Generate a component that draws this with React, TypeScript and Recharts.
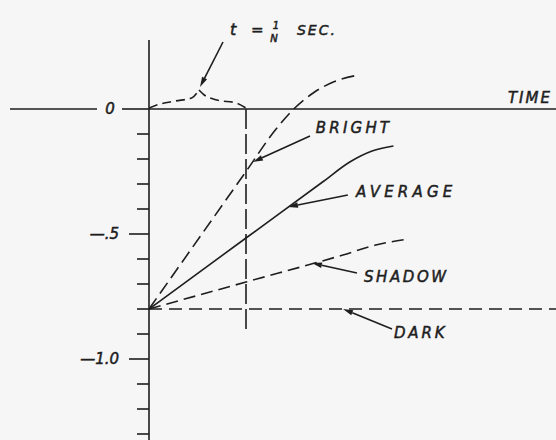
import {
  LineChart, Line, XAxis, YAxis, ReferenceLine, ReferenceDot,
} from 'recharts';

// time in units of 1/N sec, response in relative units
const bright = [
  { t: 0, v: -0.8 }, { t: 1, v: -0.25 }, { t: 1.3, v: -0.085 },
  { t: 1.5, v: 0.003 }, { t: 1.7, v: 0.066 }, { t: 1.9, v: 0.108 }, { t: 2.16, v: 0.136 },
];
const average = [
  { t: 0, v: -0.8 }, { t: 1, v: -0.516 }, { t: 1.8, v: -0.289 },
  { t: 2.07, v: -0.212 }, { t: 2.3, v: -0.168 }, { t: 2.52, v: -0.148 },
];
const shadow = [
  { t: 0, v: -0.8 }, { t: 1, v: -0.692 }, { t: 2, v: -0.584 },
  { t: 2.35, v: -0.543 }, { t: 2.67, v: -0.52 },
];
const dark = [{ t: 0, v: -0.8 }, { t: 4.196, v: -0.8 }];
const braceLeft = [
  { t: 0, v: 0.004 }, { t: 0.08, v: 0.016 }, { t: 0.27, v: 0.032 },
  { t: 0.44, v: 0.044 }, { t: 0.515, v: 0.076 },
];
const braceRight = [
  { t: 0.515, v: 0.076 }, { t: 0.57, v: 0.056 }, { t: 0.7, v: 0.036 },
  { t: 0.9, v: 0.024 }, { t: 1.0, v: 0.004 },
];

const yTicks = [0, -0.1, -0.2, -0.3, -0.4, -0.5, -0.6, -0.7, -0.8, -0.9, -1.0, -1.1, -1.2, -1.3];
const yMajor = [0, -0.5, -1.0];
const yMajorLabels = ['0', '\u2014.5', '\u20141.0'];

const labels = [
  { text: 'BRIGHT', t: 1.72, v: -0.096, ls: 3.2 },
  { text: 'AVERAGE', t: 2.134, v: -0.352, ls: 4.2 },
  { text: 'SHADOW', t: 2.216, v: -0.692, ls: 2.6 },
  { text: 'DARK', t: 2.526, v: -0.916, ls: 2.8 },
  { text: 'TIME', t: 3.70, v: 0.024, ls: 2 },
];

const arrows = [
  { from: [0.763, 0.268], to: [0.526, 0.088] },
  { from: [1.66, -0.108], to: [1.072, -0.212] },
  { from: [2.05, -0.344], to: [1.433, -0.392] },
  { from: [2.144, -0.656], to: [1.68, -0.616] },
  { from: [2.505, -0.88], to: [2.0, -0.8] },
];

const ink = '#1e1e1e';
const font = "'DejaVu Sans', sans-serif";
const textStyle = {
  fontFamily: font, fontStyle: 'italic' as const, fill: ink, stroke: ink, strokeWidth: 0.5,
};

function Arrow(p: any) {
  const { x1, y1, x2, y2 } = p;
  const a = Math.atan2(y2 - y1, x2 - x1);
  const L = 10, W = 2.8;
  const bx = x2 - L * Math.cos(a), by = y2 - L * Math.sin(a);
  const px = -Math.sin(a) * W, py = Math.cos(a) * W;
  return (
    <g>
      <line x1={x1} y1={y1} x2={bx} y2={by} stroke={ink} strokeWidth={1.6} />
      <polygon points={`${x2},${y2} ${bx + px},${by + py} ${bx - px},${by - py}`} fill={ink} />
    </g>
  );
}

function YTick(p: any) {
  const { x, y, payload } = p;
  const v = Math.round(payload.value * 10) / 10;
  const mi = yMajor.findIndex((m) => Math.abs(m - v) < 1e-6);
  if (v === 0) {
    return (
      <g>
        <line x1={x - 139} y1={y} x2={x - 52} y2={y} stroke={ink} strokeWidth={1.6} />
        <text x={x - 39} y={y + 5} textAnchor="middle" fontSize={15} {...textStyle}>{yMajorLabels[0]}</text>
        <line x1={x - 27} y1={y} x2={x} y2={y} stroke={ink} strokeWidth={1.6} />
      </g>
    );
  }
  if (mi > 0) {
    return (
      <g>
        <line x1={x - 20} y1={y} x2={x} y2={y} stroke={ink} strokeWidth={1.6} />
        <text x={x - 30} y={y + 5} textAnchor="end" fontSize={15} {...textStyle}>{yMajorLabels[mi]}</text>
      </g>
    );
  }
  return <line x1={x - 12} y1={y} x2={x} y2={y} stroke={ink} strokeWidth={1.6} />;
}

const lineProps = {
  dataKey: 'v', stroke: ink, strokeWidth: 1.6, dot: false, activeDot: false,
  isAnimationActive: false, type: 'monotone' as const,
};

export default function App() {
  return (
    <div style={{ position: 'absolute', left: 0, top: 0, width: 556, height: 440, background: '#f6f6f6' }}>
      <LineChart width={556} height={440} margin={{ top: 40, right: 0, bottom: 0, left: 0 }}>
        <XAxis type="number" dataKey="t" domain={[0, 4.196]} allowDataOverflow hide />
        <YAxis
          type="number" domain={[-1.324, 0.276]} allowDataOverflow width={149}
          ticks={yTicks} interval={0} tickSize={0} tickMargin={0} tickLine={false}
          axisLine={{ stroke: ink, strokeWidth: 1.6 }}
          tick={(p: any) => <YTick {...p} />}
        />
        <ReferenceLine y={0} stroke={ink} strokeWidth={1.6} />
        <ReferenceLine
          segment={[{ x: 1, y: 0 }, { x: 1, y: -0.9 }]}
          stroke={ink} strokeWidth={1.6} strokeDasharray="20 5"
        />
        <Line data={dark} {...lineProps} type="linear" strokeDasharray="13 7" />
        <Line data={shadow} {...lineProps} strokeDasharray="12 6" />
        <Line data={average} {...lineProps} />
        <Line data={bright} {...lineProps} strokeDasharray="13 6" />
        <Line data={braceLeft} {...lineProps} strokeDasharray="9 5" />
        <Line data={braceRight} {...lineProps} strokeDasharray="9 5" />
        {arrows.map((a, i) => (
          <ReferenceLine
            key={i} ifOverflow="visible"
            segment={[{ x: a.from[0], y: a.from[1] }, { x: a.to[0], y: a.to[1] }]}
            shape={(p: any) => <Arrow {...p} />}
          />
        ))}
        {labels.map((l) => (
          <ReferenceDot
            key={l.text} x={l.t} y={l.v} r={0} ifOverflow="visible"
            shape={(p: any) => (
              <text x={p.cx} y={p.cy} fontSize={15} letterSpacing={l.ls} {...textStyle}>{l.text}</text>
            )}
          />
        ))}
        <ReferenceDot
          x={0.835} y={0.296} r={0} ifOverflow="visible"
          shape={(p: any) => (
            <g>
              <text x={p.cx} y={p.cy} fontSize={16} {...textStyle}>t</text>
              <text x={p.cx + 21} y={p.cy} fontSize={15} {...textStyle}>=</text>
              <text x={p.cx + 46} y={p.cy - 6} fontSize={10} textAnchor="middle" {...textStyle}>1</text>
              <text x={p.cx + 44} y={p.cy + 7} fontSize={10} textAnchor="middle" {...textStyle}>N</text>
              <text x={p.cx + 67} y={p.cy} fontSize={14} letterSpacing={2} {...textStyle}>SEC.</text>
            </g>
          )}
        />
      </LineChart>
    </div>
  );
}
